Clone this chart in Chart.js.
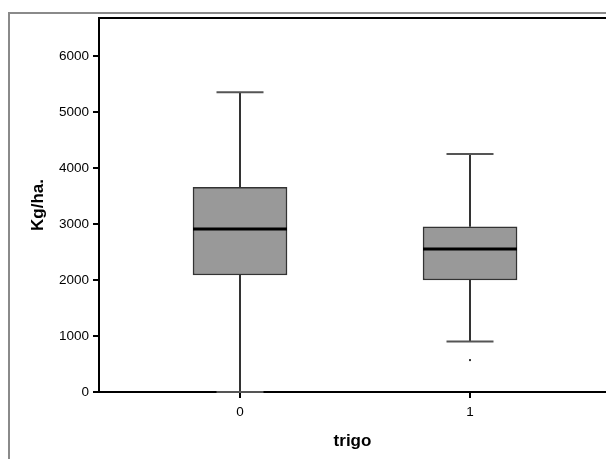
<!DOCTYPE html>
<html>
<head>
<meta charset="utf-8">
<script src="https://cdn.jsdelivr.net/npm/chart.js@4/dist/chart.umd.min.js"></script>
<style>
  html, body { margin: 0; padding: 0; background: #fff; overflow: hidden; }
  canvas { display: block; }
</style>
</head>
<body>
<canvas id="chart" width="606" height="459"></canvas>
<script>
// trigo groups and their box plot summaries (Kg/ha.)
const categories = [0, 1]
const mins = [0, 900]
const q1s = [2090, 2000]
const medians = [2910, 2555]
const q3s = [3655, 2950]
const maxs = [5355, 4250]
const outliers = [[], [570]]
const yTicks = [0, 1000, 2000, 3000, 4000, 5000, 6000]

const FONT = "'Liberation Sans', Arial, sans-serif"

// whiskers, caps, medians and outliers on top of the floating bars
const boxWhiskers = {
  id: 'boxWhiskers',
  afterDatasetsDraw(chart) {
    const { ctx } = chart
    const x = chart.scales.x
    const y = chart.scales.y
    const bars = chart.getDatasetMeta(0).data
    ctx.save()
    categories.forEach((cat, i) => {
      const cx = Math.round(x.getPixelForValue(cat))
      const half = bars[i].width / 2
      const capHalf = half / 2

      ctx.strokeStyle = '#333'
      ctx.lineWidth = 2
      ctx.beginPath()
      ctx.moveTo(cx, y.getPixelForValue(q3s[i]))
      ctx.lineTo(cx, y.getPixelForValue(maxs[i]))
      ctx.moveTo(cx, y.getPixelForValue(q1s[i]))
      ctx.lineTo(cx, y.getPixelForValue(mins[i]))
      ctx.stroke()

      ctx.strokeStyle = '#555'
      ctx.beginPath()
      ;[maxs[i], mins[i]].forEach(v => {
        const py = y.getPixelForValue(v)
        ctx.moveTo(cx - capHalf, py)
        ctx.lineTo(cx + capHalf, py)
      })
      ctx.stroke()

      ctx.strokeStyle = '#000'
      ctx.lineWidth = 3
      ctx.beginPath()
      const my = y.getPixelForValue(medians[i])
      ctx.moveTo(cx - half, my)
      ctx.lineTo(cx + half, my)
      ctx.stroke()

      ctx.fillStyle = '#333'
      outliers[i].forEach(v => {
        ctx.fillRect(cx - 1, y.getPixelForValue(v) - 1, 2, 2)
      })
    })
    ctx.restore()
  }
}

// grey panel frame and the top edge of the plot
const frame = {
  id: 'frame',
  beforeDraw(chart) {
    const { ctx } = chart
    ctx.save()
    ctx.strokeStyle = '#8a8a8a'
    ctx.lineWidth = 2
    ctx.beginPath()
    ctx.moveTo(9, chart.height)
    ctx.lineTo(9, 13)
    ctx.lineTo(chart.width, 13)
    ctx.stroke()
    ctx.restore()
  },
  afterDraw(chart) {
    const { ctx, chartArea } = chart
    ctx.save()
    ctx.strokeStyle = '#000'
    ctx.lineWidth = 2
    ctx.beginPath()
    ctx.moveTo(chartArea.left - 1, chartArea.top)
    ctx.lineTo(chart.width, chartArea.top)
    ctx.stroke()
    ctx.restore()
  }
}

new Chart(document.getElementById('chart').getContext('2d'), {
  type: 'bar',
  data: {
    datasets: [{
      label: 'Kg/ha.',
      data: categories.map((c, i) => ({ x: c, y: [q1s[i], q3s[i]] })),
      backgroundColor: '#999999',
      borderColor: '#333333',
      borderWidth: 1.5,
      borderSkipped: false,
      barThickness: 94
    }]
  },
  options: {
    responsive: false,
    animation: false,
    layout: { padding: { top: 18, left: 0, right: 0, bottom: 0 } },
    plugins: {
      legend: { display: false },
      tooltip: { enabled: false }
    },
    scales: {
      x: {
        type: 'linear',
        min: -0.613,
        max: 1.591,
        offset: false,
        afterFit: s => { s.height = 67 },
        afterBuildTicks: s => { s.ticks = categories.map(v => ({ value: v })) },
        grid: { offset: false, drawOnChartArea: false, drawTicks: true, tickLength: 6, color: '#000', lineWidth: 2 },
        border: { display: true, color: '#000', width: 2 },
        ticks: {
          padding: 6,
          color: '#000',
          font: { family: FONT, size: 13.5 },
          callback: v => String(v)
        },
        title: {
          display: true,
          text: 'trigo',
          color: '#000',
          font: { family: FONT, size: 17, weight: 'bold' },
          padding: { top: 0, bottom: 7 }
        }
      },
      y: {
        min: 0,
        max: 6680,
        afterFit: s => { s.width = 99 },
        afterBuildTicks: s => { s.ticks = yTicks.map(v => ({ value: v })) },
        grid: { drawOnChartArea: false, drawTicks: true, tickLength: 6, color: '#000', lineWidth: 2 },
        border: { display: true, color: '#000', width: 2 },
        ticks: {
          padding: 4,
          color: '#000',
          font: { family: FONT, size: 13.5 },
          callback: v => String(v)
        },
        title: {
          display: true,
          text: 'Kg/ha.',
          color: '#000',
          font: { family: FONT, size: 17, weight: 'bold' },
          padding: { top: 28, bottom: 0 }
        }
      }
    }
  },
  plugins: [frame, boxWhiskers]
})
</script>
</body>
</html>
